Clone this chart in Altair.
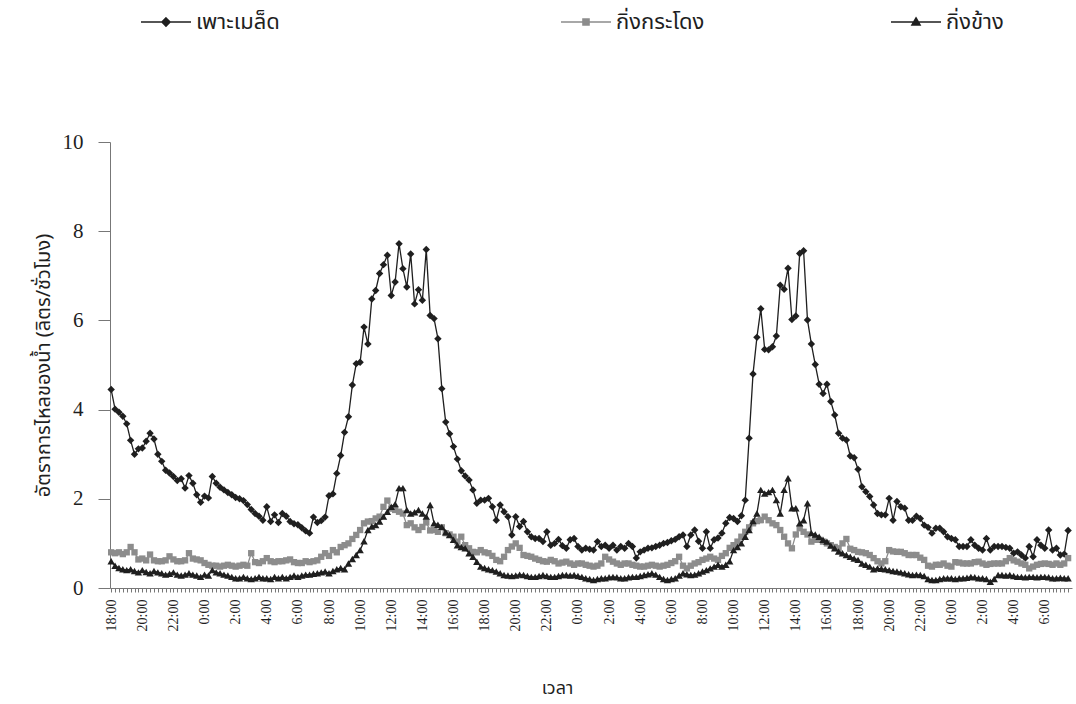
import altair as alt
import pandas as pd

# Series names (legend labels) and axis texts
NAMES = ["เพาะเมล็ด", "กิ่งกระโดง", "กิ่งข้าง"]
Y_TITLE = "อัตราการไหลของน้ำ (ลิตร/ชั่วโมง)"
X_TITLE = "เวลา"

# One label every 8 readings (readings are 15 minutes apart)
TICK_LABELS = ["18:00", "20:00", "22:00", "0:00", "2:00", "4:00", "6:00", "8:00",
               "10:00", "12:00", "14:00", "16:00", "18:00", "20:00", "22:00", "0:00",
               "2:00", "4:00", "6:00", "8:00", "10:00", "12:00", "14:00", "16:00",
               "18:00", "20:00", "22:00", "0:00", "2:00", "4:00", "6:00"]

# Flow rate (litre/hour), 15-minute readings
SEED = [4.45, 4.01, 3.94, 3.85, 3.68, 3.31, 3.0, 3.12, 3.14, 3.29, 3.47, 3.34, 3.0, 2.84,
        2.64, 2.58, 2.5, 2.41, 2.45, 2.24, 2.52, 2.35, 2.09, 1.92, 2.06, 2.02, 2.5, 2.35,
        2.26, 2.2, 2.14, 2.09, 2.03, 2.0, 1.96, 1.87, 1.76, 1.67, 1.61, 1.52, 1.82, 1.49,
        1.64, 1.47, 1.67, 1.61, 1.49, 1.44, 1.42, 1.35, 1.28, 1.23,
        1.59, 1.47, 1.51, 1.59, 2.07, 2.11, 2.57, 2.97, 3.49, 3.84, 4.55, 5.03, 5.06, 5.85,
        5.47, 6.48, 6.67, 7.05, 7.25, 7.46, 6.56, 6.86, 7.72, 7.16, 6.75, 7.49, 6.37, 6.69,
        6.45, 7.59, 6.11, 6.04, 5.59, 4.47, 3.72, 3.46, 3.17, 2.89, 2.63, 2.51, 2.42, 2.2, 1.9,
        1.97, 1.97, 2.01, 1.82, 1.52, 1.86, 1.71, 1.6, 1.19, 1.6, 1.38, 1.49, 1.26, 1.15,
        1.11, 1.11, 1.04, 1.26, 0.96, 1.0, 1.09, 0.95, 0.89, 1.08, 1.11, 0.93, 0.85, 0.89,
        0.87, 0.85, 1.04, 0.93, 0.96, 0.89, 0.96, 0.85, 0.93, 0.89, 1.0, 0.93, 0.67, 0.81,
        0.85, 0.89, 0.9, 0.93, 0.96, 1.0, 1.02, 1.06, 1.09, 1.15, 1.19, 0.93, 1.19, 1.3,
        1.05, 0.89, 1.26, 0.89, 1.08, 1.12,
        1.23, 1.45, 1.58, 1.56, 1.49, 1.62, 1.97, 3.36, 4.80, 5.62, 6.26, 5.35, 5.34, 5.41,
        5.65, 6.79, 6.70, 7.17, 6.02, 6.1, 7.5, 7.56, 6.01, 5.47, 5.01, 4.57, 4.36, 4.57,
        4.18, 3.88, 3.47, 3.36, 3.32, 2.96, 2.92, 2.66, 2.27, 2.16, 2.05, 1.86, 1.67,
        1.64, 1.64, 2.01, 1.52, 1.94, 1.82, 1.79, 1.52, 1.52, 1.61, 1.56, 1.41, 1.36, 1.23,
        1.34, 1.34, 1.26, 1.15, 1.11, 1.08, 0.93, 0.93, 0.93, 1.08, 0.96, 0.89, 0.85, 1.11,
        0.85, 0.93, 0.93, 0.93, 0.91, 0.89, 0.78, 0.81, 0.74, 0.67, 0.93, 0.7, 1.08, 0.96,
        0.89, 1.3, 0.85, 0.89, 0.74, 0.76, 1.29]

JUMP = [0.8, 0.78, 0.8, 0.76, 0.8, 0.92, 0.8,
        0.64, 0.66, 0.62, 0.75, 0.62, 0.6, 0.6, 0.62, 0.71, 0.64, 0.6, 0.6, 0.62, 0.78, 0.66,
        0.64, 0.62,
        0.56, 0.52, 0.5, 0.5, 0.48, 0.5, 0.52, 0.5, 0.48, 0.5, 0.52, 0.5, 0.78,
        0.58, 0.56, 0.6, 0.67, 0.6, 0.58, 0.6, 0.6, 0.62, 0.64, 0.58, 0.56, 0.56, 0.6, 0.58,
        0.6, 0.62, 0.7, 0.78, 0.72, 0.85, 0.8, 0.92, 0.96, 1.0, 1.1, 1.19, 1.3, 1.45, 1.49,
        1.5, 1.56, 1.6, 1.82, 1.96, 1.78, 1.75, 1.71,
        1.67, 1.41, 1.45, 1.36, 1.3, 1.37, 1.47, 1.29,
        1.3, 1.26, 1.36, 1.23, 1.2, 1.15, 1.04, 1.15, 0.96, 0.89, 0.81, 0.8,
        0.85, 0.8, 0.78, 0.72, 0.63, 0.6, 0.7, 0.85, 0.93, 1.0, 0.9, 0.74, 0.72, 0.7, 0.66,
        0.63, 0.6, 0.59, 0.63, 0.6, 0.55, 0.57, 0.59, 0.55, 0.52, 0.55, 0.55, 0.52, 0.5,
        0.48, 0.5, 0.55, 0.7, 0.64, 0.59, 0.55, 0.52, 0.55, 0.55, 0.52, 0.5, 0.48, 0.48, 0.5,
        0.52, 0.5, 0.48, 0.5, 0.52, 0.56, 0.6, 0.7, 0.5, 0.44, 0.5, 0.55, 0.58, 0.63, 0.66,
        0.7, 0.66, 0.63,
        0.72, 0.78, 0.9, 0.96, 1.04, 1.15, 1.26, 1.36, 1.45, 1.5, 1.52, 1.6, 1.52, 1.45, 1.41,
        1.3, 1.15, 1.0, 0.89, 1.2, 1.34, 1.26, 1.2, 1.04, 1.08, 1.08, 1.04, 1.0, 0.96, 0.92,
        0.89, 1.0, 1.1, 0.88, 0.85, 0.81, 0.8, 0.78, 0.74, 0.67, 0.6, 0.55, 0.6, 0.85, 0.82,
        0.81, 0.81, 0.78, 0.74, 0.74, 0.74, 0.68, 0.63, 0.5, 0.48, 0.52, 0.52, 0.55, 0.5,
        0.48, 0.58, 0.57, 0.55, 0.55, 0.55, 0.58, 0.59, 0.55, 0.52, 0.54, 0.55, 0.55, 0.55,
        0.6, 0.67, 0.62, 0.59, 0.55, 0.52, 0.44, 0.48, 0.52, 0.54, 0.55, 0.54, 0.52, 0.55,
        0.52, 0.55, 0.67]

SIDE = [0.6, 0.5, 0.45, 0.42, 0.4, 0.42, 0.38, 0.35, 0.4, 0.36, 0.33, 0.38, 0.35, 0.33,
        0.3, 0.32, 0.35, 0.3, 0.28, 0.3, 0.33, 0.3, 0.28, 0.25, 0.3, 0.28, 0.4, 0.35, 0.33,
        0.3, 0.28, 0.25, 0.22, 0.22, 0.25, 0.22, 0.2, 0.22, 0.25, 0.22, 0.22, 0.2, 0.25,
        0.22, 0.25, 0.22, 0.25, 0.28, 0.25, 0.28, 0.3, 0.3,
        0.32, 0.33, 0.35, 0.37, 0.33, 0.38, 0.42, 0.45, 0.42, 0.55, 0.65, 0.74, 0.85, 1.05,
        1.3, 1.38, 1.41, 1.49, 1.6, 1.71, 1.82, 1.88, 2.24, 2.24, 1.75, 1.67, 1.7, 1.75,
        1.67, 1.6, 1.86, 1.45, 1.42, 1.37, 1.25, 1.19, 1.08, 0.96, 0.92, 0.89, 0.78, 0.7,
        0.59, 0.48,
        0.45, 0.42, 0.4, 0.37, 0.33, 0.29, 0.28, 0.27, 0.28, 0.3, 0.29, 0.27, 0.25, 0.25,
        0.27, 0.29, 0.27, 0.25, 0.25, 0.27, 0.29, 0.29, 0.28, 0.29, 0.27, 0.25, 0.22, 0.2,
        0.18, 0.2, 0.22, 0.22, 0.24, 0.25, 0.24, 0.22, 0.22, 0.24, 0.25, 0.25, 0.27, 0.29,
        0.31, 0.33, 0.3, 0.25, 0.2, 0.18, 0.2, 0.22, 0.28, 0.33, 0.31, 0.29, 0.3, 0.33,
        0.37, 0.4, 0.44, 0.48, 0.52,
        0.48, 0.52, 0.6, 0.85, 0.92, 1.0, 1.15, 1.3, 1.5, 1.67, 2.2, 2.12, 2.15, 2.2, 1.97,
        1.67, 2.2, 2.46, 1.79, 1.79, 1.45, 1.52, 1.9, 1.23, 1.2, 1.15, 1.08, 1.04, 0.95,
        0.89, 0.82, 0.78, 0.74, 0.7, 0.66, 0.63, 0.55, 0.52, 0.48, 0.42, 0.44, 0.43,
        0.42, 0.4, 0.38, 0.37, 0.35, 0.33, 0.31, 0.29, 0.3, 0.29, 0.27, 0.2, 0.18, 0.18,
        0.2, 0.22, 0.22, 0.22, 0.2, 0.22, 0.22, 0.23, 0.25, 0.24, 0.22, 0.22, 0.2, 0.14,
        0.2, 0.29, 0.29, 0.28, 0.29, 0.27, 0.25, 0.25, 0.24, 0.25, 0.25, 0.24, 0.25, 0.25,
        0.24, 0.22, 0.22, 0.23, 0.22, 0.22]

THAI = "Noto Sans Thai, Noto Sans, sans-serif"
SERIF = "Liberation Serif"
INK = "#1f1f1f"
GREY = "#8c8c8c"

n_points = len(SEED)
label_list = "[" + ",".join("'%s'" % t for t in TICK_LABELS) + "]"

x_scale = alt.Scale(domain=[-0.3, n_points], nice=False, zero=False)
y_scale = alt.Scale(domain=[0, 10], nice=False)

x_axis = alt.Axis(
    values=list(range(n_points)),
    labelExpr="datum.value %% 8 == 0 ? %s[datum.value / 8] : ''" % label_list,
    labelAngle=270, labelFont=SERIF, labelFontSize=14, labelColor=INK,
    labelOverlap=False, labelFlush=False, labelPadding=7,
    tickSize=4, tickColor="#777", domainColor="#777", grid=False,
    title=X_TITLE, titleFont=THAI, titleFontSize=18, titleFontWeight="normal",
    titleColor=INK, titleX=447, titleY=100, titleBaseline="middle",
)
y_axis = alt.Axis(
    values=[0, 2, 4, 6, 8, 10],
    labelFont=SERIF, labelFontSize=21, labelColor=INK, labelPadding=15,
    tickSize=12, tickColor="#777", domainColor="#777", grid=False,
    title=Y_TITLE, titleFont=THAI, titleFontSize=20, titleFontWeight="normal",
    titleColor=INK, titlePadding=9,
)

# Legend glyphs: a short line with the series marker in the middle
PATH_DIAMOND = "M-1,0H1M0,-0.16L0.16,0L0,0.16L-0.16,0Z"
PATH_SQUARE = "M-1,0H1M-0.12,-0.12H0.12V0.12H-0.12Z"
PATH_TRIANGLE = "M-1,0H1M0,-0.16L0.16,0.12L-0.16,0.12Z"


def series(name, values, color, shape, size, glyph, legend_x):
    df = pd.DataFrame({"t": list(range(len(values))), "v": values, "s": name})
    base = alt.Chart(df).encode(
        x=alt.X("t:Q", scale=x_scale, axis=x_axis),
        y=alt.Y("v:Q", scale=y_scale, axis=y_axis),
    )
    line = base.mark_line(color=color, strokeWidth=1.3)
    marks = base.mark_point(shape=shape, filled=True, size=size, opacity=1).encode(
        color=alt.Color(
            "s:N",
            scale=alt.Scale(domain=[name], range=[color]),
            legend=alt.Legend(
                title=None, orient="none", legendX=legend_x, legendY=-146,
                symbolType=glyph, symbolSize=2500, symbolStrokeColor=color,
                symbolFillColor=color, symbolStrokeWidth=1.6, symbolOpacity=1,
                labelFont=THAI, labelFontSize=22, labelColor=INK, labelOffset=4,
            ),
        )
    )
    return alt.layer(line, marks)


chart = (
    alt.layer(
        series(NAMES[0], SEED, INK, "diamond", 55, PATH_DIAMOND, 30),
        series(NAMES[1], JUMP, GREY, "square", 40, PATH_SQUARE, 450),
        series(NAMES[2], SIDE, INK, "triangle-up", 55, PATH_TRIANGLE, 780),
    )
    .resolve_scale(color="independent")
    .properties(
        width=962, height=446,
        autosize=alt.AutoSizeParams(type="none"),
        padding={"left": 110, "top": 142, "right": 4, "bottom": 116},
        background="white",
    )
    .configure_view(stroke=None)
)

chart.save("out.html", embed_options={"renderer": "svg", "actions": False})
